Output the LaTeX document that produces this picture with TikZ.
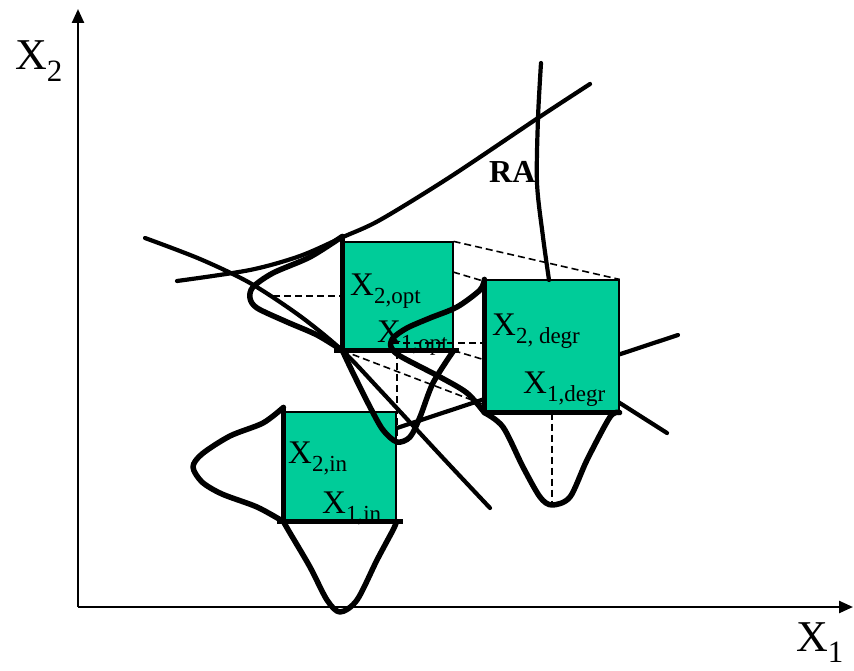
\documentclass[tikz,border=0pt]{standalone}
\usepackage{fontspec}
\setmainfont{Liberation Serif}
\usetikzlibrary{arrows.meta}
\definecolor{boxgreen}{RGB}{0,204,153}
\newcommand{\varsub}[2]{\raisebox{-0.26em}{\fontsize{#1}{#1}\selectfont #2}}

\begin{document}
\begin{tikzpicture}[x=1pt, y=-1pt]
  \tikzset{
    axisline/.style={line width=2.4pt, -{Triangle[length=14pt, width=12pt]}},
    area/.style={draw=black, line width=1.2pt, fill=boxgreen, inner sep=0pt},
    thickside/.style={line width=5.5pt},
    bell/.style={line width=5.5pt, line join=round, line cap=round},
    bound/.style={line width=4.2pt, line cap=round},
    guide/.style={line width=1.6pt, dash pattern=on 7pt off 4pt},
    lbl/.style={inner sep=0pt, anchor=base west, font=\fontsize{33}{36}\selectfont},
    axislbl/.style={inner sep=0pt, anchor=base west, font=\fontsize{44}{48}\selectfont},
  }
  \useasboundingbox (0,0) rectangle (854,671);

  % axes
  \coordinate (o) at (78,607);
  \coordinate (xtip) at (853,607);
  \coordinate (ytip) at (78,9);
  \draw[axisline] (o) -- (xtip);
  \draw[axisline] (o) -- (ytip);
  \node[axislbl] (xlab) at (796,651) {X\varsub{31}{1}};
  \node[axislbl] (ylab) at (15,70) {X\varsub{31}{2}};

  % constraints behind the degraded point
  \coordinate (cross) at (397,428);
  \draw[bound] (cross) -- (678,335);
  \draw[bound] (560,365) -- (667,433);

  % operating areas
  \node[area, minimum width=112pt, minimum height=109pt] (in) at (340,466.5) {};
  \node[area, minimum width=110pt, minimum height=108pt] (opt) at (398,296) {};
  \node[area, minimum width=134pt, minimum height=132pt] (degr) at (552,346) {};

  % labels of the areas
  \node[lbl] (x2in) at (288,463) {X\varsub{23}{2,in}};
  \node[lbl] (x1in) at (322,513) {X\varsub{23}{1,in}};
  \node[lbl] (x2opt) at (350,295) {X\varsub{23}{2,opt}};
  \node[lbl] (x1opt) at (377,342) {X\varsub{23}{1,opt}};
  \node[lbl] (x2degr) at (492,335) {X\varsub{23}{2, degr}};
  \node[lbl] (x1degr) at (523,393) {X\varsub{23}{1,degr}};

  % thick sides
  \draw[thickside] ([yshift=4pt]in.north west) -- (in.south west);
  \draw[thickside] ([xshift=-6pt]in.south west) -- ([xshift=6pt]in.south east);
  \draw[thickside] ([yshift=5pt]opt.north west) -- (opt.south west);
  \draw[thickside] ([xshift=-8pt]opt.south west) -- ([xshift=5pt]opt.south east);
  \draw[thickside] (degr.north west) -- (degr.south west);
  \draw[thickside] (degr.south west) -- ([xshift=1pt]degr.south east);

  % isolines
  \draw[bound] plot[smooth] coordinates {
    (177,281) (250,270) (300,256) (343,237) (380,220) (450,177) (538,118) (590,84)
  };
  \draw[bound] plot[smooth] coordinates {
    (145,238) (200,259) (250,283) (300,316) (opt.south west) (380,390) (443,458) (490,508)
  };
  \draw[bound] plot[smooth] coordinates {
    (541,63) (538,118) (537,183) (543,237) (549,280)
  };
  \node[inner sep=0pt, anchor=base west, font=\fontsize{32}{34}\selectfont\bfseries] (ra) at (489,183) {RA};

  % distributions
  \draw[bell] plot[smooth] coordinates {
    (in.south west) (290,533) (310,567) (327,600) (340,612) (357,600) (377,560) (393,530) (in.south east)
  };
  \draw[bell] plot[smooth] coordinates {
    ([yshift=4pt]in.north west) (263,423) (230,436) (202,454) (193,467) (202,482) (222,494) (257,507) (in.south west)
  };
  \draw[bell] plot[smooth] coordinates {
    ([yshift=5pt]opt.north west) (310,257) (273,273) (253,287) (250,298) (257,308) (287,322) (317,335) (opt.south west)
  };
  \draw[bell] plot[smooth] coordinates {
    (opt.south west) (353,373) (370,407) (383,430) (397,442) (410,437) (420,417) (433,383) (opt.south east)
  };
  \draw[bell] plot[smooth] coordinates {
    (degr.north west) (480,290) (457,307) (430,318) (407,328) (393,338) (391,347) (400,356) (440,377) (467,393) (degr.south west)
  };
  \draw[bell] plot[smooth] coordinates {
    (degr.south west) (503,427) (523,467) (540,497) (552,505) (570,497) (587,460) (610,417) (degr.south east)
  };

  % projections
  \draw[guide] (273,296) -- (opt.west);
  \draw[guide] (opt.north east) -- (degr.north east);
  \draw[guide] (453,272) -- ([yshift=-2pt]degr.north west);
  \draw[guide] (opt.south east) -- (485,360);
  \draw[guide] (opt.south west) -- (485,405);
  \draw[guide] (392,343) -- (485,343);
  \draw[guide] (397,352) -- (397,440);
  \draw[guide] (degr.south) -- (552,503);
\end{tikzpicture}
\end{document}
